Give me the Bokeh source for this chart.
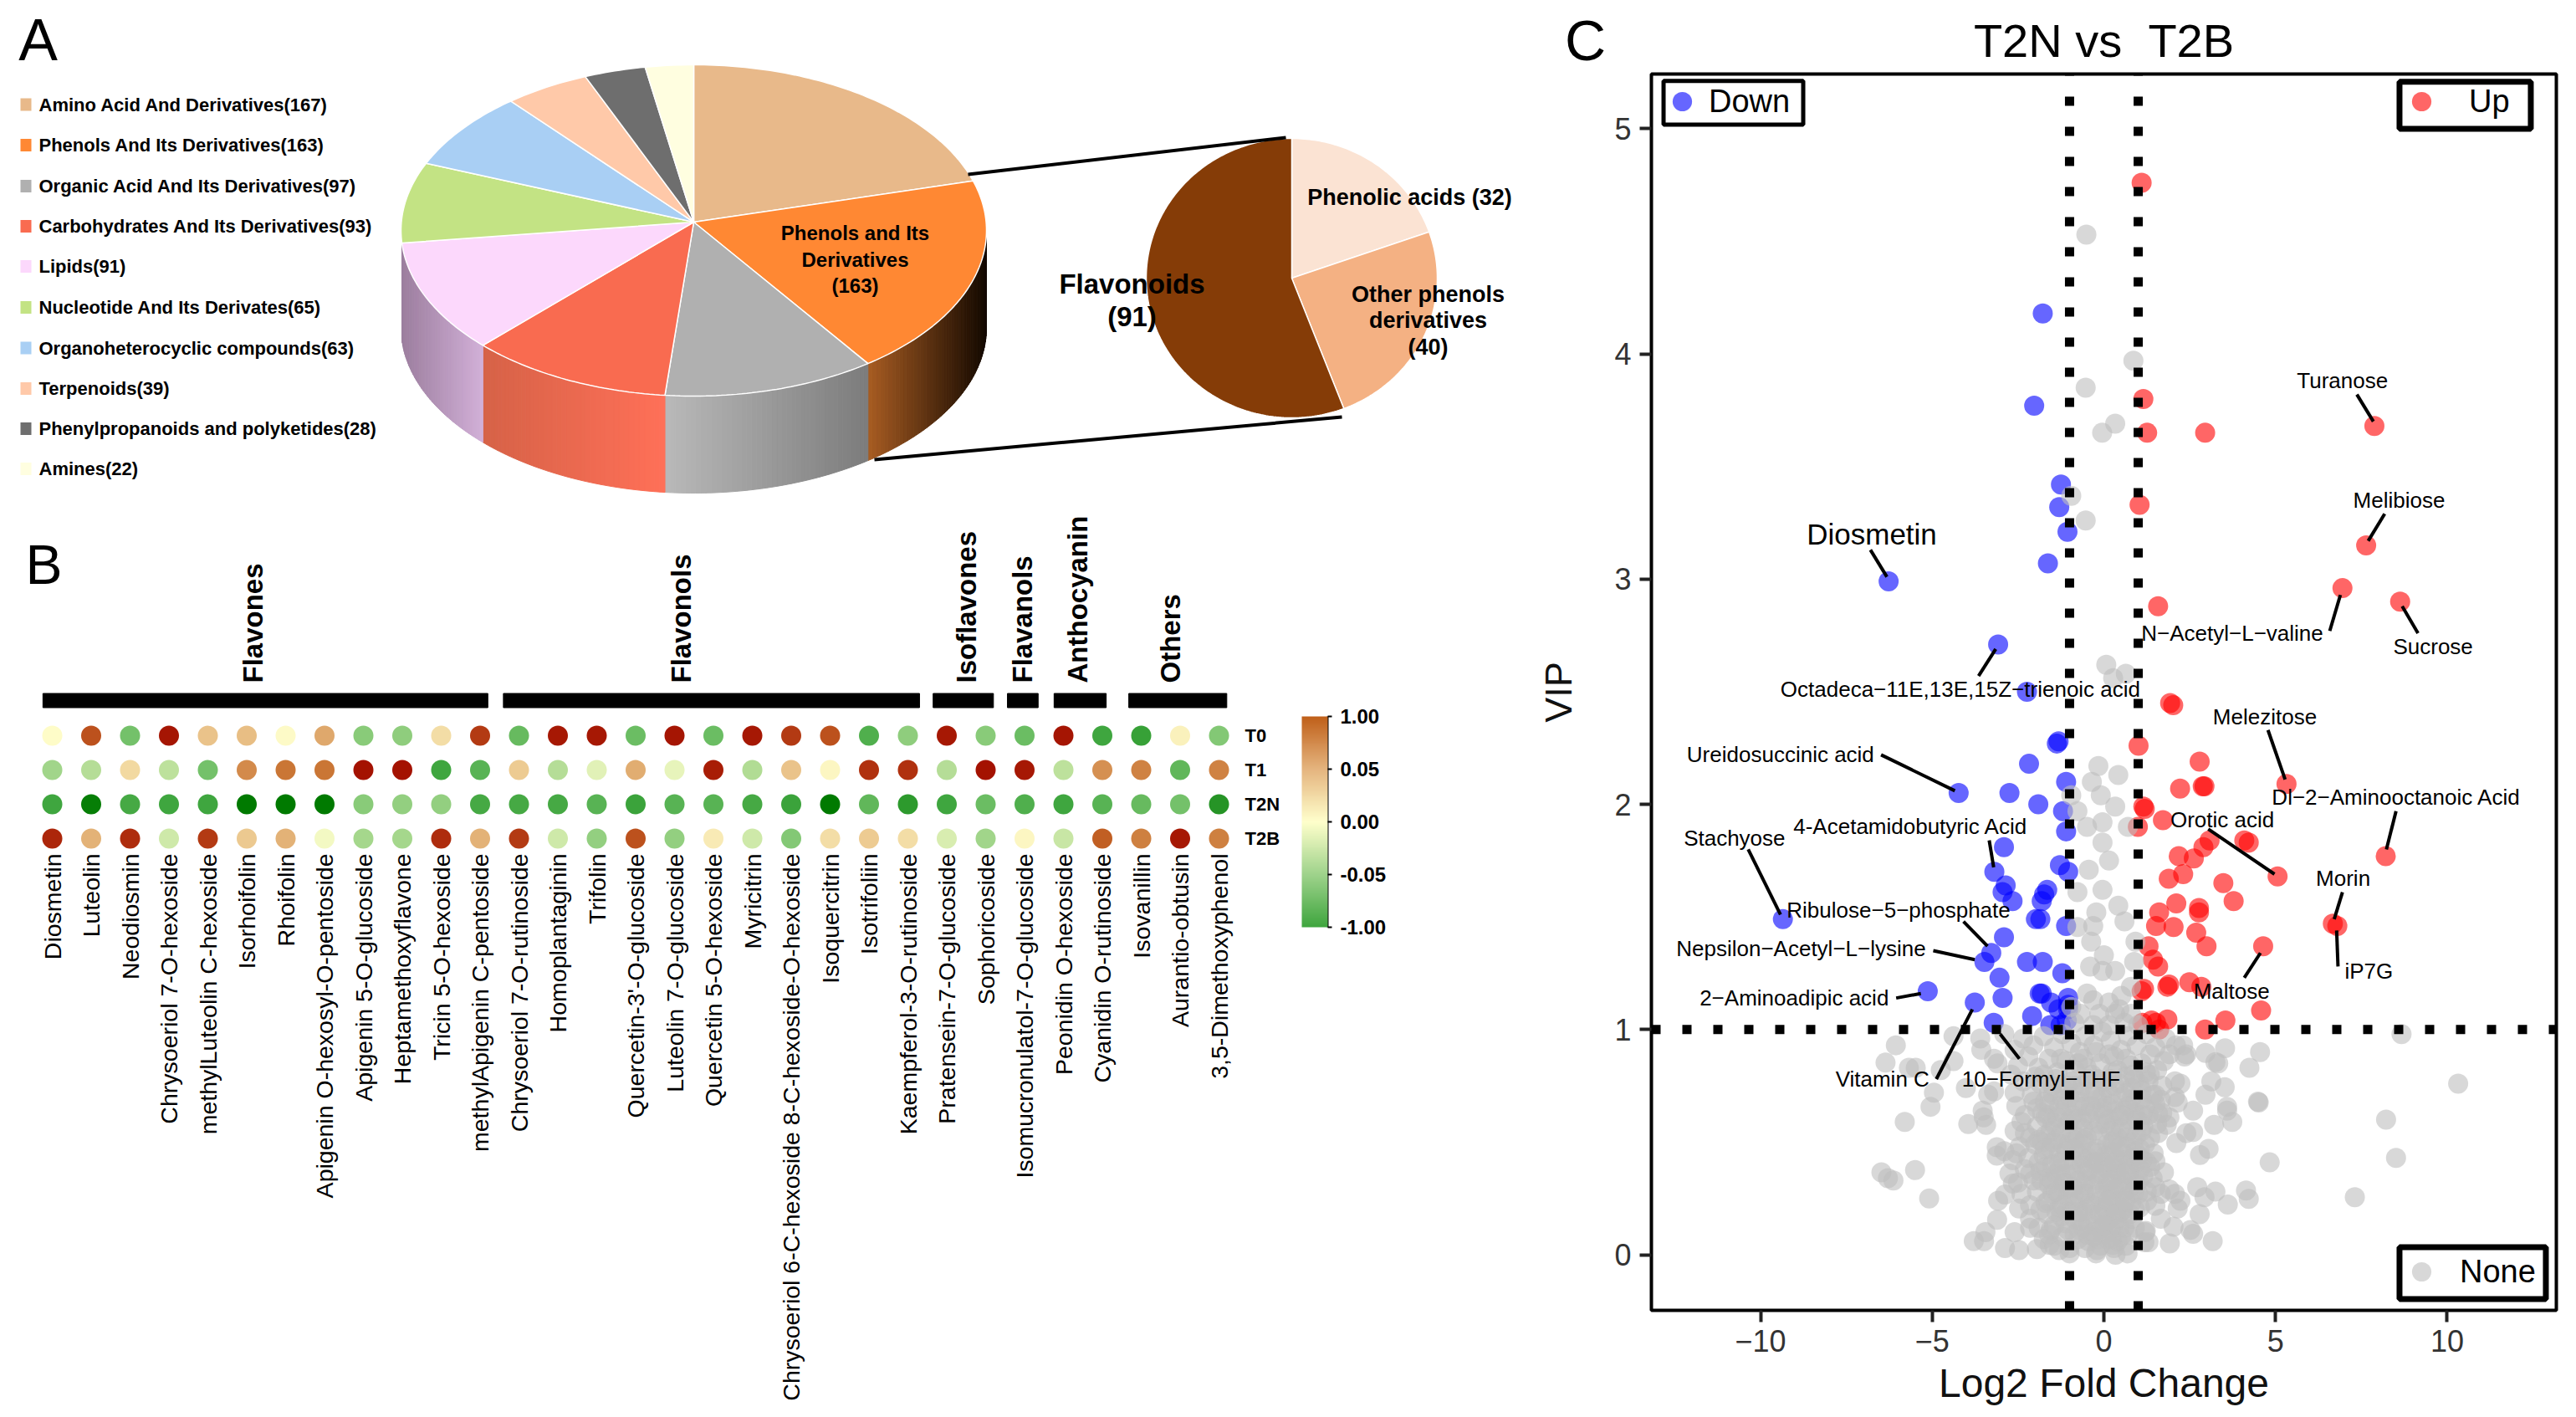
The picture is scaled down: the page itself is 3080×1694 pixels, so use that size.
import math
from bokeh.embed import file_html
from bokeh.resources import INLINE
from bokeh.plotting import figure
from bokeh.layouts import row, column
from bokeh.core.properties import value
from bokeh.models import (Range1d, ColumnDataSource, LinearAxis, FixedTicker, LinearColorMapper,
                          ColorBar, Legend, LegendItem)
from bokeh.transform import transform

FONT = "Liberation Sans"

# ---------- Panel A data ----------
class_names = ["Amino Acid And Derivatives(167)", "Phenols And Its Derivatives(163)",
               "Organic Acid And Its Derivatives(97)", "Carbohydrates And Its Derivatives(93)",
               "Lipids(91)", "Nucleotide And Its Derivates(65)", "Organoheterocyclic compounds(63)",
               "Terpenoids(39)", "Phenylpropanoids and polyketides(28)", "Amines(22)"]
class_values = [167, 163, 97, 93, 91, 65, 63, 39, 28, 22]
class_colors = ["#E8B98A", "#FF8833", "#B0B0B0", "#F96B50", "#FCD8FC",
                "#C3E384", "#A9CFF4", "#FFC9A9", "#6E6E6E", "#FFFEE0"]
side_left = {1: "#A85C22", 2: "#B9B9B9", 3: "#D66247", 4: "#9C7E9E"}
side_right = {1: "#120800", 2: "#7C7C7C", 3: "#FF7058", 4: "#D2B0D8"}
phenol_values = [32, 40, 91]
phenol_colors = ["#FBE3D3", "#F4B183", "#853C07"]

# ---------- Panel B data ----------
compounds = ["Diosmetin", "Luteolin", "Neodiosmin", "Chrysoeriol 7-O-hexoside", "methylLuteolin C-hexoside",
             "Isorhoifolin", "Rhoifolin", "Apigenin O-hexosyl-O-pentoside", "Apigenin 5-O-glucoside",
             "Heptamethoxyflavone", "Tricin 5-O-hexoside", "methylApigenin C-pentoside",
             "Chrysoeriol 7-O-rutinoside", "Homoplantaginin", "Trifolin", "Quercetin-3'-O-glucoside",
             "Luteolin 7-O-glucoside", "Quercetin 5-O-hexoside", "Myricitrin",
             "Chrysoeriol 6-C-hexoside 8-C-hexoside-O-hexoside", "Isoquercitrin", "Isotrifoliin",
             "Kaempferol-3-O-rutinoside", "Pratensein-7-O-glucoside", "Sophoricoside",
             "Isomucronulatol-7-O-glucoside", "Peonidin O-hexoside", "Cyanidin O-rutinoside",
             "Isovanillin", "Aurantio-obtusin", "3,5-Dimethoxyphenol"]
rows_b = ["T2B", "T2N", "T1", "T0"]
t0 = [.02, .82, -.55, .98, .35, .38, .03, .5, -.47, -.45, .2, .88, -.6, .97, .97, -.58, .98, -.58, .97, .88,
      .82, -.68, -.45, .97, -.47, -.58, .98, -.75, -.78, .08, -.5]
t1 = [-.38, -.3, .22, -.27, -.55, .62, .7, .7, .99, .99, -.75, -.65, .3, -.3, -.12, .48, -.1, .96, -.32, .35,
      .05, .9, .9, -.3, .99, .97, -.27, .6, .65, -.62, .65]
t2n = [-.75, -.97, -.72, -.75, -.75, -1, -1, -1, -.47, -.43, -.43, -.72, -.72, -.72, -.65, -.76, -.65, -.65,
       -.72, -.76, -1, -.62, -.82, -.75, -.58, -.68, -.75, -.65, -.6, -.55, -.85]
t2b = [.93, .45, .92, -.2, .88, .32, .45, -.05, -.36, -.36, .92, .45, .88, -.2, -.43, .82, -.43, .12, -.2, -.5,
       .2, .3, .2, -.16, -.38, .05, -.22, .78, .66, .97, .66]
group_names = ["Flavones", "Flavonols", "Isoflavones", "Flavanols", "Anthocyanin", "Others"]
group_from = [-.24, 11.6, 22.65, 24.56, 25.76, 27.68]
group_to = [11.2, 22.3, 24.2, 25.35, 27.1, 30.2]
group_label_col = [5.16, 16.17, 23.5, 24.95, 26.36, 28.75]
cbar_ticks = [-1, -.5, 0, .5, 1]
cbar_labels = ["-1.00", "-0.05", "0.00", "0.05", "1.00"]

# ---------- Panel C data ----------
up_pts = [(1.10, 4.76), (1.15, 3.80), (1.26, 3.65), (2.95, 3.65), (7.88, 3.68), (1.04, 3.33), (7.64, 3.15),
          (1.58, 2.88), (6.95, 2.96), (8.63, 2.90), (1.93, 2.45), (2.02, 2.44), (1.01, 2.26), (2.79, 2.19),
          (2.22, 2.07), (2.93, 2.08), (2.88, 2.08), (5.32, 2.09), (1.15, 1.99), (1.19, 1.98), (1.72, 1.93),
          (.99, 1.90), (4.09, 1.84), (4.22, 1.83), (3.08, 1.84), (2.90, 1.81), (2.18, 1.77), (2.62, 1.76),
          (8.21, 1.77), (2.31, 1.69), (1.89, 1.67), (5.06, 1.68), (3.48, 1.65), (3.78, 1.57), (2.11, 1.56),
          (2.77, 1.54), (2.77, 1.52), (1.61, 1.52), (1.52, 1.46), (2.03, 1.455), (2.69, 1.43), (2.99, 1.37),
          (1.30, 1.37), (4.64, 1.37), (6.67, 1.47), (6.80, 1.46), (1.43, 1.31), (1.58, 1.28), (1.17, 1.18),
          (1.10, 1.17), (1.85, 1.19), (1.90, 1.20), (2.49, 1.21), (2.84, 1.19), (4.58, 1.085), (3.54, 1.04),
          (2.95, 1.0), (1.85, 1.045), (1.39, 1.04), (1.52, 1.03), (1.12, 1.03), (1.61, 1.0)]
down_pts = [(-1.78, 4.18), (-2.03, 3.77), (-1.25, 3.42), (-1.30, 3.32), (-1.06, 3.21), (-1.63, 3.07), (-6.27, 2.99),
            (-3.08, 2.71), (-2.24, 2.50), (-1.37, 2.27), (-1.32, 2.28), (-2.18, 2.18), (-1.10, 2.10), (-4.23, 2.05),
            (-2.75, 2.05), (-1.91, 2.00), (-1.19, 1.97), (-1.10, 1.88), (-2.91, 1.81), (-3.19, 1.70), (-1.28, 1.73),
            (-1.04, 1.70), (-2.86, 1.64), (-2.95, 1.61), (-2.66, 1.57), (-1.65, 1.62), (-1.74, 1.60), (-1.81, 1.57),
            (-1.98, 1.49), (-1.85, 1.49), (-1.10, 1.46), (-9.35, 1.49), (-2.91, 1.41), (-3.28, 1.34), (-3.48, 1.30),
            (-2.24, 1.30), (-1.78, 1.30), (-1.21, 1.25), (-3.04, 1.23), (-5.13, 1.17), (-1.87, 1.16), (-1.81, 1.16),
            (-2.95, 1.14), (-3.76, 1.12), (-1.54, 1.12), (-1.04, 1.14), (-1.04, 1.11), (-1.04, 1.09), (-1.32, 1.09),
            (-2.09, 1.06), (-3.21, 1.03), (-1.56, 1.02), (-1.26, 1.02), (-1.08, 1.04)]
none_pts = [(-.51, 4.53), (.86, 3.97), (-.53, 3.85), (.33, 3.69), (-.05, 3.65), (-.95, 3.37), (-.53, 3.26), (.07, 2.62),
            (.27, 2.56), (.64, 2.58), (-.16, 2.17), (.42, 2.13), (-.35, 2.10), (-.95, 2.04), (-.09, 2.04), (.33, 1.99),
            (-.77, 1.97), (-.49, 1.90), (-.04, 1.92), (-.04, 1.83), (.70, 1.90), (.15, 1.75), (-.44, 1.71), (-.04, 1.62),
            (-.77, 1.61), (.42, 1.55), (-.22, 1.52), (.60, 1.48), (-.77, 1.455), (-.31, 1.46), (-.37, 1.39), (.92, 1.39),
            (0, 1.33), (.88, 1.30), (-.40, 1.28), (-.04, 1.26), (.33, 1.26),
            (-.49, 1.16), (-.31, 1.13), (.51, 1.15), (.79, 1.19), (.15, 1.12), (-.68, 1.07), (-.13, 1.07), (.33, 1.07),
            (.79, 1.07), (-.31, 1.02), (-.86, 1.03), (.6, 1.03), (.15, 1.02), (-.95, 1.1), (.45, 1.09), (1.0, 1.02),
            # left fringe
            (-6.06, .93), (-6.36, .853), (-5.68, .83), (-5.48, .83), (-4.75, .82), (-4.38, .86), (-4.38, .97), (-3.57, .91),
            (-3.2, .87), (-3.1, .85), (-4.95, .72), (-5.05, .657), (-5.8, .59), (-4.02, .74), (-3.37, .71), (-3.2, .725),
            (-3.53, .64), (-3.5, .61), (-3.95, .58), (-3.43, .577), (-3.12, .477), (-3.12, .44), (-6.48, .366), (-6.29, .34),
            (-6.13, .33), (-5.5, .376), (-5.09, .25), (-3.08, .24), (-2.88, .267), (-2.65, .316), (-2.47, .205), (-3.11, .155),
            (-3.45, .10), (-3.49, .06), (-3.79, .06), (-2.88, .03), (-2.6, .10), (-2.47, .02), (-1.95, .025), (-2.15, .12),
            (-1.58, .044), (-1.0, .006), (-.23, .006), (.34, 0), (.26, .044), (1.18, .056), (1.2, .1), (-3.6, .96), (-2.9, .98),
            # right fringe
            (4.55, .90), (4.24, .83), (8.67, .98), (10.32, .76), (8.22, .60), (8.51, .43), (7.31, .255), (4.83, .41), (4.49, .68),
            (4.51, .676), (3.59, .657), (3.59, .64), (3.74, .59), (3.21, .577), (3.53, .917), (3.25, .855), (3.33, .85), (2.96, .896),
            (2.35, .88), (2.31, .93), (2.4, .89), (1.91, .89), (3.13, .77), (3.52, .744), (2.96, .71), (2.23, .76), (2.07, .77),
            (2.6, .64), (2.15, .676), (2.6, .545), (2.4, .54), (2.11, .496), (3.05, .47), (2.8, .443), (2.72, .30), (3.25, .28),
            (2.93, .255), (3.61, .223), (4.14, .285), (4.22, .248), (2.79, .18), (2.15, .205), (1.66, .16), (2.03, .124), (2.52, .11),
            (2.6, .093), (3.17, .06), (1.92, .05), (1.3, .056), (1.22, .106), (.69, .006), (1.75, .366), (1.91, .29), (2.23, .24),
            (1.5, .415), (1.42, .34), (1.66, .27), (2.07, .27), (1.26, .24), (1.5, .217), (1.58, .626), (1.91, .61), (1.83, .577),
            (1.58, .54), (1.42, .71), (1.34, .80), (1.66, .688), (2.07, .70),
            # dense cloud
            (-2.35, .96), (-2.05, .93), (-1.75, .97), (-1.45, .92), (-1.2, .98), (-.95, .94), (-.7, .9), (-.55, .97), (-.3, .93),
            (-.05, .99), (.2, .95), (.5, .91), (.7, .97), (.95, .93), (1.25, .98), (1.5, .92), (1.8, .96), (-2.6, .91), (2.1, .93),
            (-2.5, .84), (-2.2, .88), (-1.9, .83), (-1.6, .87), (-1.35, .81), (-1.1, .86), (-.85, .82), (-.6, .87), (-.35, .8),
            (-.1, .85), (.15, .89), (.4, .82), (.65, .87), (.85, .8), (1.1, .85), (1.35, .89), (1.55, .82), (1.75, .86), (-2.7, .8),
            (-1.75, .8), (-.5, .83), (.25, .81), (-2.6, .72), (-2.35, .77), (-2.1, .71), (-1.85, .76), (-1.6, .72), (-1.4, .78),
            (-1.15, .73), (-.95, .77), (-.7, .72), (-.45, .78), (-.25, .73), (0, .77), (.2, .71), (.45, .76), (.65, .72), (.9, .78),
            (1.1, .73), (1.3, .77), (1.5, .71), (1.7, .75), (-.85, .75), (.1, .74), (.8, .74), (-1.5, .75), (-2.0, .79),
            (-2.55, .66), (-2.3, .62), (-2.05, .68), (-1.8, .63), (-1.6, .67), (-1.35, .61), (-1.1, .66), (-.9, .62), (-.7, .68),
            (-.45, .63), (-.2, .69), (0, .62), (.25, .67), (.45, .61), (.7, .66), (.9, .63), (1.1, .69), (1.3, .62), (1.5, .67),
            (1.7, .63), (-1.7, .61), (-1.2, .69), (-.55, .66), (-.05, .65), (.35, .64), (.8, .69), (1.2, .65),
            (-2.6, .55), (-2.4, .59), (-2.15, .52), (-1.95, .57), (-1.7, .53), (-1.5, .59), (-1.25, .54), (-1.05, .58), (-.85, .51),
            (-.6, .56), (-.4, .6), (-.15, .53), (.05, .58), (.3, .51), (.5, .56), (.75, .6), (.95, .53), (1.15, .57), (1.35, .52),
            (1.55, .58), (-1.9, .51), (-.95, .54), (-.3, .55), (.2, .55), (.65, .52), (1.05, .59), (-2.3, .54), (-1.4, .51),
            (-2.9, .46), (-2.65, .42), (-2.45, .48), (-2.2, .43), (-2, .49), (-1.75, .44), (-1.55, .47), (-1.3, .41), (-1.1, .46),
            (-.9, .42), (-.65, .49), (-.45, .43), (-.2, .47), (0, .41), (.2, .46), (.4, .42), (.65, .48), (.85, .43), (1.05, .47),
            (1.25, .41), (1.45, .45), (-1.9, .41), (-.75, .45), (-.3, .41), (.1, .49), (.55, .45), (.95, .41), (-2.55, .45), (-1.2, .49),
            (.3, .45), (-2.75, .36), (-2.5, .32), (-2.3, .38), (-2.05, .33), (-1.85, .37), (-1.6, .31), (-1.4, .36), (-1.15, .32),
            (-.95, .38), (-.75, .33), (-.5, .37), (-.3, .31), (-.1, .36), (.1, .32), (.35, .38), (.55, .33), (.75, .37), (.95, .31),
            (1.15, .35), (1.35, .39), (-2.15, .36), (-1.25, .35), (-.6, .31), (0, .39), (.45, .36), (.85, .34), (1.05, .38), (-1.7, .39),
            (1.5, .3), (-2.4, .27), (-2.15, .22), (-1.95, .28), (-1.7, .23), (-1.5, .27), (-1.3, .21), (-1.05, .26), (-.85, .22),
            (-.6, .28), (-.4, .23), (-.2, .27), (0, .21), (.2, .26), (.4, .22), (.6, .28), (.8, .23), (1.0, .27), (.9, .2), (-1.85, .2),
            (-1.15, .29), (-.7, .25), (-.1, .24), (.3, .29), (.7, .26), (1.05, .21), (-2.15, .16), (-1.9, .12), (-1.65, .18), (-1.45, .13),
            (-1.25, .17), (-1.05, .11), (-.85, .16), (-.6, .12), (-.4, .18), (-.2, .13), (0, .17), (.2, .11), (.4, .16), (.6, .12),
            (.75, .18), (-1.55, .11), (-.95, .19), (-.3, .1), (.1, .15), (.5, .19), (-.7, .15), (.9, .12), (-1.75, .07), (-1.45, .04),
            (-1.2, .08), (-1, .03), (-.75, .07), (-.55, .03), (-.3, .08), (-.1, .04), (.1, .07), (.3, .03), (.5, .08), (.65, .04),
            (-1.3, .02), (-.85, .09), (-.45, .06), (0, .09), (.4, .06), (-1.6, .09), (-.2, .02),
            (-.8, .6), (-.5, .52), (-.25, .64), (.15, .6), (.4, .52), (.6, .64), (-.65, .4), (-.35, .46), (.05, .44), (.35, .36), (.6, .42),
            (-.9, .3), (-.55, .27), (-.15, .33), (.15, .29), (.45, .24), (-.75, .19), (-.45, .14), (.05, .2), (.3, .14), (.55, .2), (-1.0, .5),
            (-1.3, .45), (-1.5, .4), (-1.1, .36), (-1.4, .28), (-1.2, .22), (-1.6, .34), (-1.8, .5), (-1.55, .55), (.85, .5), (1, .44),
            (1.2, .49), (.75, .3), (1, .33), (1.25, .28), (.95, .6), (1.1, .55), (-.4, .72), (-.05, .7), (.3, .75), (-1, .7), (-1.3, .66),
            (-.65, .6), (.55, .7), (-.15, .45), (-.75, .52), (.25, .5), (-.5, .2), (-.05, .12), (.25, .22),
            (-1.62, .62), (-1.42, .57), (-1.22, .63), (-.98, .6), (-.78, .66), (-.58, .51), (-.38, .66), (-.12, .58), (.08, .66), (.28, .57),
            (.52, .62), (.72, .55), (.92, .68), (1.12, .62), (-1.72, .47), (-1.48, .5), (-1.18, .42), (-.88, .47), (-.62, .43), (-.42, .38),
            (-.18, .41), (.12, .38), (.32, .41), (.48, .48), (.72, .4), (.92, .46), (1.12, .42), (-1.82, .33), (-1.52, .33), (-1.28, .38),
            (-1.02, .3), (-.82, .36), (-.52, .33), (-.22, .36), (.03, .29), (.22, .33), (.42, .3), (.65, .36), (.88, .28), (-1.62, .24),
            (-1.32, .27), (-1.08, .19), (-.88, .27), (-.62, .19), (-.32, .22), (-.12, .18), (.12, .24), (.35, .18), (.62, .24), (.82, .16),
            (-1.38, .19), (-1.12, .14), (-.72, .11), (-.48, .09), (-.18, .07), (.02, .13), (.22, .07), (.45, .12), (.7, .09), (-1.95, .65),
            (-1.72, .68), (-1.48, .71), (-1.08, .75), (-.62, .75), (-.18, .78), (.18, .78), (.62, .79), (1.02, .76), (-1.25, .87), (-.75, .85),
            (-.22, .9), (.3, .88), (.78, .84), (1.22, .81)]
down_x = [q[0] for q in down_pts]; down_y = [q[1] for q in down_pts]
up_x = [q[0] for q in up_pts]; up_y = [q[1] for q in up_pts]
none_x = [q[0] for q in none_pts]; none_y = [q[1] for q in none_pts]

volcano_labels = ["Turanose", "Melibiose", "Diosmetin", "N\u2212Acetyl\u2212L\u2212valine", "Sucrose",
                  "Octadeca\u221211E,13E,15Z\u2212trienoic acid", "Melezitose", "Ureidosuccinic acid",
                  "Dl\u22122\u2212Aminooctanoic Acid", "Orotic acid", "4-Acetamidobutyric Acid", "Stachyose", "Morin",
                  "Ribulose\u22125\u2212phosphate", "Nepsilon\u2212Acetyl\u2212L\u2212lysine", "iP7G", "Maltose",
                  "2\u2212Aminoadipic acid", "Vitamin C", "10\u2212Formyl\u2212THF"]
label_x = [6.95, 8.6, -6.76, 3.74, 9.59, -4.18, 4.69, -9.42, 8.52, 3.45, -5.63, -10.76, 6.97, -5.98, -8.82, 7.72, 3.72, -9.02, -6.45, -1.83]
label_y = [3.88, 3.35, 3.20, 2.76, 2.70, 2.51, 2.39, 2.22, 2.03, 1.93, 1.90, 1.85, 1.67, 1.53, 1.36, 1.26, 1.17, 1.14, .78, .78]
seg_x0 = [7.37, 8.18, -6.80, 6.58, 9.15, -3.65, 4.78, -6.49, 8.51, 3.04, -3.34, -10.36, 6.95, -4.09, -4.97, 6.82, 4.09, -6.05, -4.88, -2.46]
seg_y0 = [3.82, 3.29, 3.13, 2.77, 2.76, 2.57, 2.33, 2.22, 1.97, 1.89, 1.84, 1.80, 1.61, 1.48, 1.35, 1.28, 1.23, 1.14, .78, .87]
seg_x1 = [7.85, 7.70, -6.32, 6.89, 8.69, -3.15, 5.28, -4.34, 8.23, 4.97, -3.21, -9.42, 6.71, -3.39, -3.76, 6.78, 4.56, -5.33, -3.83, -3.02]
seg_y1 = [3.70, 3.17, 3.01, 2.93, 2.88, 2.69, 2.11, 2.06, 1.80, 1.69, 1.72, 1.51, 1.49, 1.37, 1.31, 1.44, 1.34, 1.16, 1.09, .98]
x_ticks = [-10, -5, 0, 5, 10]
y_ticks = [0, 1, 2, 3, 4, 5]


def hex2rgb(h):
    return tuple(int(h[i:i + 2], 16) for i in (1, 3, 5))


def lerp(c0, c1, f):
    a, b = hex2rgb(c0), hex2rgb(c1)
    return "#%02x%02x%02x" % tuple(round(a[i] + (b[i] - a[i]) * f) for i in range(3))


def ramp(stops, n=256):
    out = []
    for i in range(n):
        f = i / (n - 1) * (len(stops) - 1)
        k = min(int(f), len(stops) - 2)
        out.append(lerp(stops[k], stops[k + 1], f - k))
    return out


def put_text(p, xs, ys, texts, size, style="normal", align="center", baseline="middle", angle=0.0, color="black"):
    p.text(x=xs, y=ys, text=texts, text_font=value(FONT), text_font_size=size, text_font_style=style,
           text_align=align, text_baseline=baseline, angle=angle, text_color=color)


LEFT_W = 1828
A_W = 1925   # panel A's canvas also carries the letter C, under panel C's transparent left border

# ========== Panel A ==========
pA = figure(width=A_W, height=605, x_range=Range1d(0, A_W), y_range=Range1d(605, 0), output_backend="svg",
            toolbar_location=None, min_border=0, x_axis_location=None, y_axis_location=None, outline_line_color=None)
pA.grid.visible = False

CX, CY, RX, RY, APEX, DEPTH = 829.0, 275.0, 350.0, 198.0, 265.0, 116.0


def ex(t):
    return CX + RX * math.sin(t)


def ey(t):
    return CY - RY * math.cos(t)


total = sum(class_values)
angles = [0.0]
for v in class_values:
    angles.append(angles[-1] + v / total * 2 * math.pi)

# side wall strips
sx, sy, sc = [], [], []
for i in range(len(class_values)):
    if i not in side_left:
        continue
    a0 = max(angles[i], math.pi / 2)
    a1 = min(angles[i + 1], 3 * math.pi / 2)
    n = max(2, int((a1 - a0) / math.radians(1.0)))
    x0, x1 = ex(a0), ex(a1)
    for k in range(n):
        u0 = a0 + (a1 - a0) * k / n
        u1 = a0 + (a1 - a0) * (k + 1) / n
        sx.append([ex(u0), ex(u1), ex(u1), ex(u0)])
        sy.append([ey(u0), ey(u1), ey(u1) + DEPTH, ey(u0) + DEPTH])
        f = (ex((u0 + u1) / 2) - min(x0, x1)) / abs(x1 - x0)
        sc.append(lerp(side_left[i], side_right[i], f))
pA.patches(sx, sy, fill_color=sc, line_color=sc, line_width=1)

# top face
fx, fy = [], []
for i in range(len(class_values)):
    n = max(6, int((angles[i + 1] - angles[i]) / math.radians(1.0)))
    ts = [angles[i] + (angles[i + 1] - angles[i]) * k / n for k in range(n + 1)]
    fx.append([CX] + [ex(t) for t in ts])
    fy.append([APEX] + [ey(t) for t in ts])
pA.patches(fx, fy, fill_color=class_colors, line_color="white", line_width=1.5)

# exploded sub pie
CX2, CY2, RX2, RY2 = 1544.0, 332.0, 174.0, 167.0
tot2 = sum(phenol_values)
a = 0.0
gx, gy = [], []
for v in phenol_values:
    b = a + v / tot2 * 2 * math.pi
    n = max(6, int((b - a) / math.radians(1.0)))
    ts = [a + (b - a) * k / n for k in range(n + 1)]
    gx.append([CX2] + [CX2 + RX2 * math.sin(t) for t in ts])
    gy.append([CY2] + [CY2 - RY2 * math.cos(t) for t in ts])
    a = b
pA.patches(gx, gy, fill_color=phenol_colors, line_color="white", line_width=1.5)

pA.segment([1157, 1045], [208, 549], [1537, 1604], [164, 498], line_color="black", line_width=4)

# legend A
leg_y = [124.5, 173, 222, 270, 318, 367, 415.5, 464, 512, 560]
pA.rect([30.5] * 10, leg_y, width=13, height=15, fill_color=class_colors, line_color=None)
put_text(pA, [46] * 10, leg_y, class_names, "22px", "bold", align="left")

put_text(pA, [1022] * 3, [278, 310, 341], ["Phenols and Its", "Derivatives", "(163)"], "24px", "bold")
put_text(pA, [1353] * 2, [339, 378], ["Flavonoids", "(91)"], "33px", "bold")
put_text(pA, [1685], [235], ["Phenolic acids (32)"], "27px", "bold")
put_text(pA, [1707] * 3, [351, 382, 414], ["Other phenols", "derivatives", "(40)"], "27px", "bold")
put_text(pA, [45], [47], ["A"], "70px")
put_text(pA, [1895], [47], ["C"], "68px")

# ========== Panel B ==========
XP0, XPS, YP0, YPS = 62.0, 46.5, 1002.0, 41.0


def bx(px):
    return (px - XP0) / XPS


def by(py):
    return (YP0 - py) / YPS


pB = figure(width=LEFT_W, height=1085, x_range=Range1d(bx(0), bx(LEFT_W)), y_range=Range1d(by(1690), by(605)),
            output_backend="svg", toolbar_location=None, min_border=0, outline_line_color=None,
            x_axis_location=None, y_axis_location=None)
pB.grid.visible = False

bot_axis = LinearAxis(ticker=FixedTicker(ticks=list(range(len(compounds)))),
                      major_label_overrides={i: n for i, n in enumerate(compounds)},
                      fixed_location=by(1022), axis_line_color=None, major_tick_line_color=None,
                      minor_tick_line_color=None, major_label_orientation=math.pi / 2, major_label_standoff=-8,
                      major_label_text_font=FONT, major_label_text_font_size="28.5px", major_label_text_color="black")
pB.add_layout(bot_axis, "below")
right_axis = LinearAxis(ticker=FixedTicker(ticks=list(range(len(rows_b)))),
                        major_label_overrides={i: n for i, n in enumerate(rows_b)},
                        fixed_location=bx(1482), axis_line_color=None, major_tick_line_color=None,
                        minor_tick_line_color=None, major_label_standoff=0,
                        major_label_text_font=FONT, major_label_text_font_size="22px",
                        major_label_text_font_style="bold", major_label_text_color="black")
pB.add_layout(right_axis, "right")

dot_stops = ["#007A00", "#3FA63F", "#82C875", "#C2E3A0", "#FFFFCC", "#F0D49C", "#E0AA6E", "#C56A28", "#A30F00"]
dot_mapper = LinearColorMapper(palette=ramp(dot_stops), low=-1, high=1)
dx, dy, dv = [], [], []
for r, vals in enumerate([t2b, t2n, t1, t0]):
    for c, v in enumerate(vals):
        dx.append(c); dy.append(r); dv.append(v)
pB.scatter(x="x", y="y", source=ColumnDataSource(dict(x=dx, y=dy, v=dv)), size=24,
           fill_color=transform("v", dot_mapper), line_color=None)

pB.quad(left=group_from, right=group_to, bottom=[by(845.5)] * 6, top=[by(828.5)] * 6, color="black")
put_text(pB, group_label_col, [by(816)] * 6, group_names, "33px", "bold", align="left", angle=math.pi / 2)
put_text(pB, [bx(52)], [by(674)], ["B"], "66px")

bar_mapper = LinearColorMapper(palette=ramp(["#3FA63F", "#9FD38C", "#FFFFCC", "#E5B57F", "#C0601A"]), low=-1, high=1)
cbar = ColorBar(color_mapper=bar_mapper, ticker=FixedTicker(ticks=cbar_ticks),
                major_label_overrides={t: s for t, s in zip(cbar_ticks, cbar_labels)},
                width=31, height=252, location=(1556, 582), padding=0, margin=0,
                background_fill_color=None, major_tick_line_color="black", major_tick_in=0, major_tick_out=5,
                major_tick_line_width=2, minor_tick_line_color=None, bar_line_color=None, label_standoff=10,
                major_label_text_font=FONT, major_label_text_font_size="24px", major_label_text_font_style="bold",
                major_label_text_color="black")
pB.add_layout(cbar, "center")
pB.segment([bx(1587)], [by(856)], [bx(1587)], [by(1108)], line_color="black", line_width=2)

# ========== Panel C ==========
XMIN, XMAX, YMIN, YMAX = -13.18, 13.18, -.247, 5.243
pC = figure(width=1244, height=1685, x_range=Range1d(XMIN, XMAX), y_range=Range1d(YMIN, YMAX), output_backend="svg",
            toolbar_location=None, min_border_left=146, min_border_right=16, min_border_top=88, min_border_bottom=119,
            frame_width=1082, frame_height=1478, outline_line_color="black", outline_line_width=4,
            border_fill_color=None, margin=(0, 0, 0, LEFT_W - A_W))
pC.grid.visible = False
pC.title.text = "T2N vs \u00a0T2B"
pC.title.align = "center"
pC.title.text_font = FONT
pC.title.text_font_size = "56px"
pC.title.text_font_style = "normal"
pC.title.text_color = "black"
pC.title.standoff = 17

pC.xaxis.ticker = FixedTicker(ticks=x_ticks)
pC.yaxis.ticker = FixedTicker(ticks=y_ticks)
pC.xaxis.major_label_overrides = {t: str(t).replace("-", "\u2212") for t in x_ticks}
pC.xaxis.axis_label = "Log2 Fold Change"
pC.yaxis.axis_label = "VIP"
for ax in (pC.xaxis[0], pC.yaxis[0]):
    ax.axis_line_color = None
    ax.major_tick_line_color = "#222222"
    ax.major_tick_line_width = 4
    ax.major_tick_out = 14
    ax.major_tick_in = 0
    ax.minor_tick_line_color = None
    ax.major_label_text_font = FONT
    ax.major_label_text_font_size = "36px"
    ax.major_label_text_color = "#333333"
    ax.axis_label_text_font = FONT
    ax.axis_label_text_font_style = "normal"
    ax.axis_label_text_color = "#111111"
pC.xaxis.axis_label_text_font_size = "48px"
pC.yaxis.axis_label_text_font_size = "45px"
pC.xaxis.major_label_standoff = 9
pC.yaxis.major_label_standoff = 10
pC.xaxis.axis_label_standoff = 8
pC.yaxis.axis_label_standoff = 38

r_down = pC.scatter(down_x, down_y, size=24, color="#0000FF", alpha=.6, line_color=None)
r_up = pC.scatter(up_x, up_y, size=24, color="#FF0000", alpha=.6, line_color=None)
r_none = pC.scatter(none_x, none_y, size=24, color="#BEBEBE", alpha=.6, line_color=None)

DASH = "11 25"
pC.line([-1, -1], [YMIN, YMAX], line_color="black", line_width=11, line_dash=DASH)
pC.line([1, 1], [YMIN, YMAX], line_color="black", line_width=11, line_dash=DASH)
pC.line([XMIN, XMAX], [1, 1], line_color="black", line_width=11, line_dash="11 26")

pC.segment(seg_x0, seg_y0, seg_x1, seg_y1, line_color="black", line_width=4)
sizes = ["35px" if t == "Diosmetin" else "26px" for t in volcano_labels]
pC.text(x=label_x, y=label_y, text=volcano_labels, text_font=value(FONT), text_font_size=sizes,
        text_align="center", text_baseline="middle", text_color="black")


def cx(px):
    return (px - 2515) / 41.05


def cy(py):
    return (1498.5 - py) / 269.0


box_left = [cx(1988.5), cx(2868.5), cx(2868.5)]
box_right = [cx(2155.5), cx(3025.5), cx(3043.5)]
box_top = [cy(96.5), cy(97.5), cy(1489.5)]
box_bottom = [cy(148.5), cy(153.5), cy(1551.5)]
pC.quad(left=box_left, right=box_right, top=box_top, bottom=box_bottom, fill_color="white",
        line_color="black", line_width=[5, 7, 7])

for lab, rend, loc, stand in (("Down", r_down, (8, 1416), 3), ("Up", r_up, (892, 1416), 28), ("None", r_none, (892, 17), 17)):
    leg = Legend(items=[LegendItem(label=lab, renderers=[rend])], location=loc, padding=0, margin=0, spacing=0,
                 border_line_color=None, background_fill_alpha=0, glyph_width=58, glyph_height=58, label_standoff=stand,
                 label_text_font=FONT, label_text_font_size="38px", label_height=58, label_text_color="black")
    pC.add_layout(leg, "center")

layout = row(column(pA, pB), pC)
open("out.html", "w").write(file_html(layout, INLINE))
